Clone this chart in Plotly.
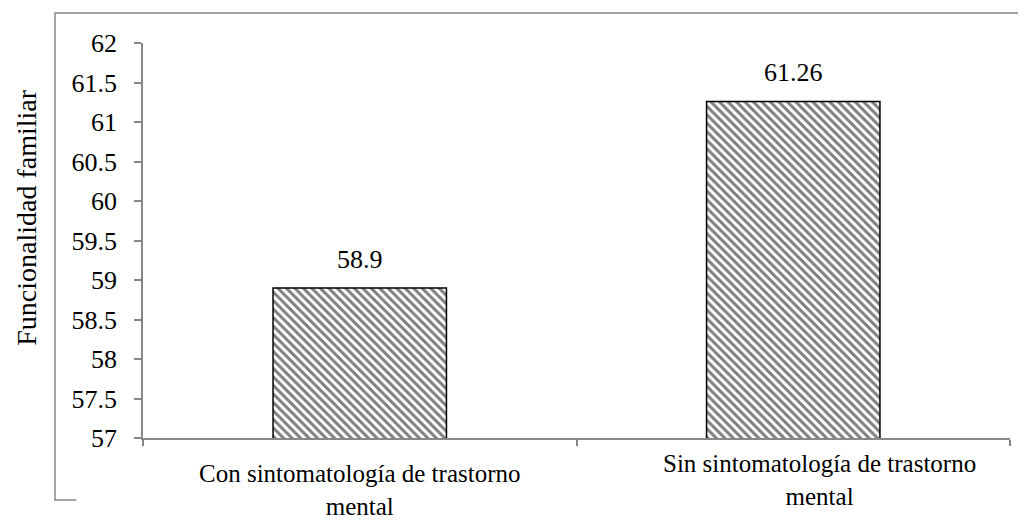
import plotly.graph_objects as go

categorias = ['Con sintomatología de trastorno mental', 'Sin sintomatología de trastorno mental']
etiquetas = ['Con sintomatología de trastorno<br>mental', 'Sin sintomatología de trastorno<br>mental']
valores = [58.9, 61.26]
ticks_y = [57, 57.5, 58, 58.5, 59, 59.5, 60, 60.5, 61, 61.5, 62]
titulo_y = 'Funcionalidad familiar'

fonte = 'Times New Roman, Liberation Serif, serif'
cinza = '#878787'

fig = go.Figure()

fig.add_trace(go.Bar(
    x=categorias,
    y=valores,
    width=0.4,
    marker=dict(
        color='white',
        line=dict(color='black', width=1.5),
        pattern=dict(shape='\\', fgcolor='black', bgcolor='white', size=6, solidity=0.5)
    )
))

# valores acima das barras
for cat, v in zip(categorias, valores):
    fig.add_annotation(
        x=cat, y=v, text=str(v), showarrow=False,
        yanchor='bottom', yshift=12,
        font=dict(family=fonte, size=26, color='black')
    )

# rótulos das categorias (posição irregular como no original)
deslocamentos = [(0, -20), (26, -10)]
for cat, txt, (dx, dy) in zip(categorias, etiquetas, deslocamentos):
    fig.add_annotation(
        x=cat, y=0, xref='x', yref='paper',
        text=txt, showarrow=False,
        xshift=dx, yshift=dy, yanchor='top',
        font=dict(family=fonte, size=25, color='black')
    )

# título do eixo y (um pouco acima do centro, como no original)
fig.add_annotation(
    x=-0.134, y=0.557, xref='paper', yref='paper',
    text=titulo_y, showarrow=False, textangle=-90,
    xanchor='center', yanchor='middle',
    font=dict(family=fonte, size=28, color='black')
)

# borda externa parcial
fig.add_shape(
    type='path', xref='paper', yref='paper',
    path='M -0.077,-0.157 L -0.1015,-0.157 L -0.1015,1.076 L 1.03,1.076',
    line=dict(color=cinza, width=1.5)
)

fig.update_layout(
    width=1018,
    height=512,
    plot_bgcolor='white',
    paper_bgcolor='white',
    showlegend=False,
    font=dict(family=fonte, color='black'),
    margin=dict(l=135, r=16, t=35, b=82, autoexpand=False),
    xaxis=dict(
        showticklabels=False,
        tickson='boundaries',
        ticks='outside',
        ticklen=6,
        tickcolor=cinza,
        tickwidth=1.5,
        showline=True,
        linecolor=cinza,
        linewidth=1.5,
        showgrid=False
    ),
    yaxis=dict(
        range=[57, 62],
        tickvals=ticks_y,
        ticktext=[f'{t:g}' for t in ticks_y],
        tickfont=dict(family=fonte, size=26, color='black'),
        ticklabelstandoff=12,
        ticks='outside',
        ticklen=7,
        tickcolor=cinza,
        tickwidth=1.5,
        showline=True,
        linecolor=cinza,
        linewidth=1.5,
        showgrid=False,
        zeroline=False
    )
)

fig.write_html('out.html')
